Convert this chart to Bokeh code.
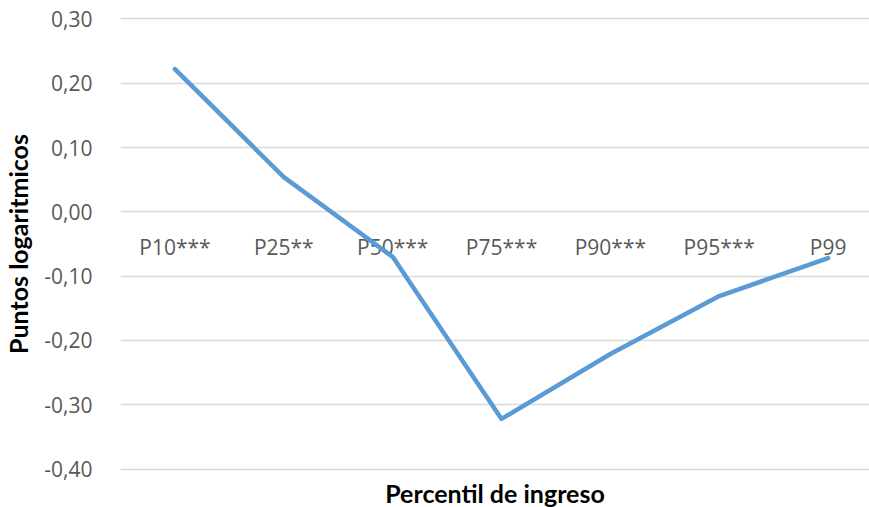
from bokeh.plotting import figure
from bokeh.models import FixedTicker, Range1d, Title, ColumnDataSource
from bokeh.core.properties import value
from bokeh.embed import file_html
from bokeh.resources import INLINE

categories = ["P10***", "P25**", "P50***", "P75***", "P90***", "P95***", "P99"]
values = [0.222, 0.054, -0.070, -0.322, -0.221, -0.131, -0.072]
y_ticks = [-0.4, -0.3, -0.2, -0.1, 0.0, 0.1, 0.2, 0.3]
y_tick_labels = ["-0,40", "-0,30", "-0,20", "-0,10", "0,00", "0,10", "0,20", "0,30"]

xs = [i + 0.5 for i in range(len(categories))]
src = ColumnDataSource(dict(x=xs, y=values, cat=categories, zero=[0.0] * len(categories)))

p = figure(width=869, height=507, output_backend="svg", toolbar_location=None,
           x_range=Range1d(0, 6.88), y_range=Range1d(-0.41, 0.31),
           min_border_left=119, min_border_right=0, min_border_top=12, min_border_bottom=32)
p.outline_line_color = None
p.background_fill_color = "white"
p.border_fill_color = "white"

p.xaxis.visible = False
p.xgrid.visible = False

p.yaxis.ticker = FixedTicker(ticks=y_ticks)
p.yaxis.major_label_overrides = {t: l for t, l in zip(y_ticks, y_tick_labels)}
p.yaxis.axis_line_color = None
p.yaxis.major_tick_line_color = None
p.yaxis.minor_tick_line_color = None
p.yaxis.major_label_text_font = "Open Sans"
p.yaxis.major_label_text_font_size = "21px"
p.yaxis.major_label_text_color = "#595959"
p.yaxis.major_label_standoff = 22
p.yaxis.axis_label = "Puntos logaritmicos"
p.yaxis.axis_label_text_font = "Lato"
p.yaxis.axis_label_text_font_style = "bold"
p.yaxis.axis_label_text_font_size = "25px"
p.yaxis.axis_label_text_color = "black"
p.yaxis.axis_label_standoff = 8

p.ygrid.ticker = FixedTicker(ticks=y_ticks)
p.ygrid.grid_line_color = "#D9D9D9"
p.ygrid.grid_line_width = 1.5

p.text(x="x", y="zero", text="cat", source=src, text_align="center", text_baseline="top",
       y_offset=21, text_font=value("Open Sans"), text_font_size="21px", text_color="#595959")

p.line(x="x", y="y", source=src, line_color="#5B9BD5", line_width=4.5,
       line_join="round", line_cap="round")

p.add_layout(Title(text="Percentil de ingreso", align="center", text_font="Lato",
                   text_font_style="bold", text_font_size="25px", text_color="black",
                   standoff=0, offset=0), "below")

open("out.html", "w").write(file_html(p, INLINE))
